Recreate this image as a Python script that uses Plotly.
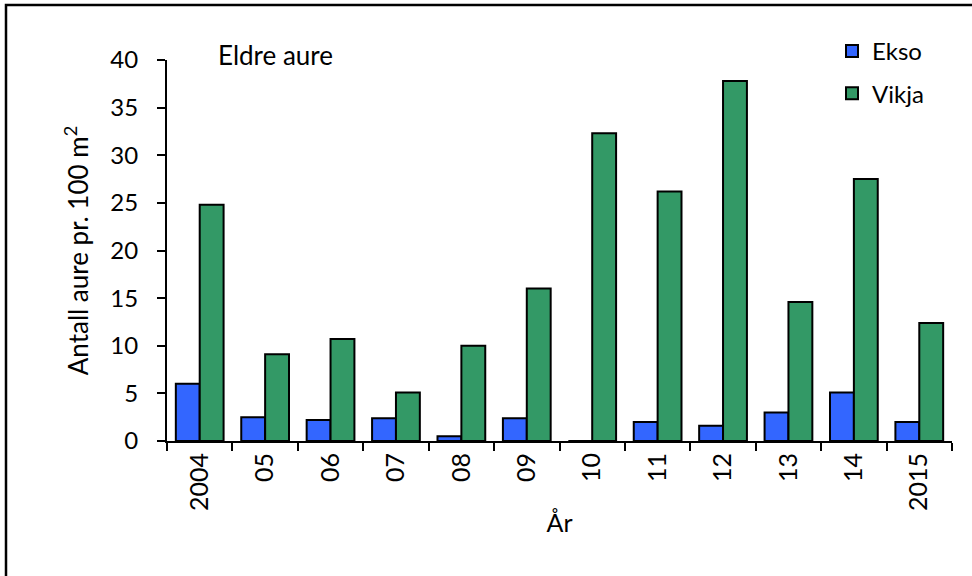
import plotly.graph_objects as go

years = ["2004", "05", "06", "07", "08", "09", "10", "11", "12", "13", "14", "2015"]
ekso = [6.0, 2.5, 2.2, 2.4, 0.5, 2.4, 0.0, 2.0, 1.6, 3.0, 5.1, 2.0]
vikja = [24.8, 9.1, 10.7, 5.1, 10.0, 16.0, 32.3, 26.2, 37.8, 14.6, 27.5, 12.4]

FONT = "Lato, 'Open Sans', sans-serif"
W, H = 972, 576
L, R, T, B = 167, 20, 60, 135
pw, ph = W - L - R, H - T - B

fig = go.Figure()
fig.add_trace(go.Bar(x=years, y=ekso, name="Ekso", legendgroup="a",
                     marker=dict(color="#3366FF", line=dict(color="black", width=2))))
fig.add_trace(go.Bar(x=years, y=vikja, name="Vikja", legendgroup="b",
                     marker=dict(color="#339966", line=dict(color="black", width=2))))

fig.update_layout(
    width=W, height=H,
    margin=dict(l=L, r=R, t=T, b=B),
    paper_bgcolor="white", plot_bgcolor="white",
    font=dict(family=FONT, size=24, color="black"),
    barmode="group", bargap=0.27, bargroupgap=0,
    legend=dict(x=(832 - L) / pw, y=(441 - 29) / ph, xanchor="left", yanchor="top",
                bgcolor="rgba(0,0,0,0)", tracegroupgap=8,
                font=dict(family=FONT, size=24)),
    xaxis=dict(type="category", showline=True, linecolor="black", linewidth=2,
               ticks="outside", tickson="boundaries", ticklen=8, tickcolor="black",
               tickwidth=2, tickangle=-90, showgrid=False,
               tickfont=dict(size=25),
               title=dict(text="År", standoff=4, font=dict(size=25))),
    yaxis=dict(range=[0, 40], dtick=5, showline=True, linecolor="black", linewidth=2,
               ticks="outside", ticklen=8, tickcolor="black", tickwidth=2,
               ticklabelstandoff=14, tickfont=dict(size=24),
               showgrid=False, zeroline=False,
               title=dict(text="Antall aure pr. 100 m<sup>2</sup>", standoff=14,
                          font=dict(size=26))),
    annotations=[dict(text="Eldre aure", xref="paper", yref="paper",
                      x=(216 - L) / pw, y=(441 - 55) / ph, xanchor="left", yanchor="middle",
                      showarrow=False, font=dict(family=FONT, size=26))],
    shapes=[dict(type="rect", xref="paper", yref="paper",
                 x0=(6 - L) / pw, x1=(W + 10 - L) / pw,
                 y0=(441 - H - 10) / ph, y1=(441 - 5) / ph,
                 line=dict(color="black", width=2.5), fillcolor="rgba(0,0,0,0)",
                 layer="below")],
)

fig.write_html("out.html", config={"displayModeBar": False},
               post_script="document.body.style.margin='0px';")
